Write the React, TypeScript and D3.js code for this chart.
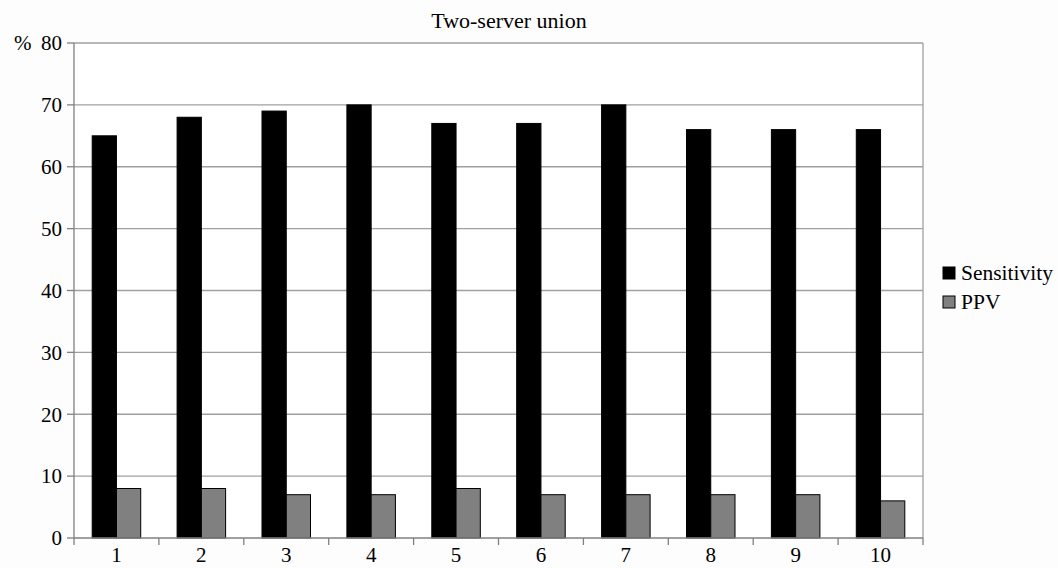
import React, { useEffect, useRef } from "react";
import * as d3 from "d3";

const categories = ["1", "2", "3", "4", "5", "6", "7", "8", "9", "10"];
const sensitivity = [65, 68, 69, 70, 67, 67, 70, 66, 66, 66];
const ppv = [8, 8, 7, 7, 8, 7, 7, 7, 7, 6];
const yTicks = [0, 10, 20, 30, 40, 50, 60, 70, 80];
const seriesNames = ["Sensitivity", "PPV"];
const seriesColors = ["#000000", "#808080"];

const W = 1058;
const H = 568;
const margin = { left: 74, right: 135, top: 43, bottom: 30 };
const FONT = "Liberation Serif, Times New Roman, serif";

export default function App() {
  const ref = useRef<SVGSVGElement | null>(null);

  useEffect(() => {
    const svg = d3.select(ref.current);
    svg.selectAll("*").remove();

    const x0 = margin.left;
    const x1 = W - margin.right;
    const y0 = H - margin.bottom;
    const y1 = margin.top;

    const x = d3.scaleBand<string>().domain(categories).range([x0, x1]).paddingInner(0).paddingOuter(0);
    const y = d3.scaleLinear().domain([0, 80]).range([y0, y1]);

    svg.append("rect").attr("width", W).attr("height", H).attr("fill", "#fdfdfd");
    svg.append("rect").attr("x", x0).attr("y", y1).attr("width", x1 - x0).attr("height", y0 - y1).attr("fill", "#ffffff");

    // horizontal gridlines
    svg.append("g")
      .selectAll("line")
      .data(yTicks.filter((t) => t > 0))
      .join("line")
      .attr("x1", x0)
      .attr("x2", x1)
      .attr("y1", (d) => y(d))
      .attr("y2", (d) => y(d))
      .attr("stroke", "#a0a0a0")
      .attr("stroke-width", 1.3);

    // right border of the plot area
    svg.append("line")
      .attr("x1", x1).attr("x2", x1).attr("y1", y1).attr("y2", y0)
      .attr("stroke", "#a0a0a0").attr("stroke-width", 1.3);

    // bars: Excel-style 150% gap width
    const barW = x.bandwidth() / 3.5;
    const groupOffset = (x.bandwidth() - 2 * barW) / 2;
    const series = [sensitivity, ppv];
    series.forEach((vals, si) => {
      svg.append("g")
        .selectAll("rect")
        .data(vals)
        .join("rect")
        .attr("x", (_, i) => (x(categories[i]) as number) + groupOffset + si * barW)
        .attr("y", (d) => y(d))
        .attr("width", barW)
        .attr("height", (d) => y0 - y(d))
        .attr("fill", seriesColors[si])
        .attr("stroke", "#000")
        .attr("stroke-width", 1);
    });

    // axes lines
    svg.append("line").attr("x1", x0).attr("x2", x0).attr("y1", y1).attr("y2", y0)
      .attr("stroke", "#808080").attr("stroke-width", 1.3);
    svg.append("line").attr("x1", x0).attr("x2", x1).attr("y1", y0).attr("y2", y0)
      .attr("stroke", "#808080").attr("stroke-width", 1.3);

    const txt = (g: d3.Selection<any, unknown, null, undefined>, size: number) =>
      g.append("text").style("font-family", FONT).style("font-size", `${size}px`).attr("fill", "#000");

    // y ticks and labels
    const yg = svg.append("g");
    yTicks.forEach((t) => {
      yg.append("line").attr("x1", x0 - 7).attr("x2", x0).attr("y1", y(t)).attr("y2", y(t))
        .attr("stroke", "#808080").attr("stroke-width", 1.3);
      txt(yg, 21)
        .attr("x", x0 - 12)
        .attr("y", y(t))
        .attr("dy", "0.35em")
        .attr("text-anchor", "end")
        .text(String(t));
    });
    txt(svg, 21).attr("x", 14).attr("y", y(80)).attr("dy", "0.35em").text("%");

    // x ticks at category boundaries and labels
    const xg = svg.append("g");
    categories.forEach((c, i) => {
      const bx = x(c) as number;
      xg.append("line").attr("x1", bx).attr("x2", bx).attr("y1", y0).attr("y2", y0 + 7)
        .attr("stroke", "#808080").attr("stroke-width", 1.3);
      if (i === categories.length - 1) {
        xg.append("line").attr("x1", x1).attr("x2", x1).attr("y1", y0).attr("y2", y0 + 7)
          .attr("stroke", "#808080").attr("stroke-width", 1.3);
      }
      txt(xg, 21)
        .attr("x", bx + x.bandwidth() / 2)
        .attr("y", y0 + 24)
        .attr("text-anchor", "middle")
        .text(c);
    });

    // title
    txt(svg, 22)
      .attr("x", 509).attr("y", 28)
      .attr("text-anchor", "middle")
      .text("Two-server union");

    // legend
    const lg = svg.append("g");
    seriesNames.forEach((name, i) => {
      const ly = 273 + i * 29;
      lg.append("rect").attr("x", 943).attr("y", ly - 6).attr("width", 12).attr("height", 12)
        .attr("fill", seriesColors[i]).attr("stroke", "#000").attr("stroke-width", 1);
      txt(lg, 21.5).attr("x", 961).attr("y", ly).attr("dy", "0.33em").text(name);
    });
  }, []);

  return (
    <div style={{ position: "absolute", left: 0, top: 0 }}>
      <svg ref={ref} width={W} height={H} />
    </div>
  );
}
